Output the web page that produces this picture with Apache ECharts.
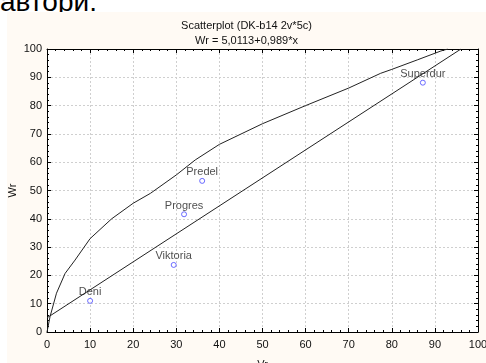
<!DOCTYPE html>
<html><head><meta charset="utf-8">
<script src="https://cdn.jsdelivr.net/npm/echarts@6/dist/echarts.min.js"></script>
<style>
html,body{margin:0;padding:0;background:#fff;width:486px;height:363px;overflow:hidden;position:relative;}
#top{position:absolute;left:0;top:-14px;font-family:"Liberation Sans",Arial,sans-serif;font-size:28px;color:#000;white-space:nowrap;}
#c{position:absolute;left:7px;top:12px;width:479px;height:351px;}
</style></head><body>
<div id="top">автори.</div>
<div id="c"></div>
<script>
const titleMain = 'Scatterplot (DK-b14 2v*5c)';
const titleSub = 'Wr = 5,0113+0,989*x';
const names = ['Deni', 'Viktoria', 'Progres', 'Predel', 'Superdur'];
const vr = [10.0, 29.4, 31.8, 36.0, 87.2];
const wr = [11.0, 23.7, 41.6, 53.4, 88.1];
const fitX = [0, 96.05];
const fitY = [5.0113, 100];
const curveX = [0, 0.7, 2.2, 4.2, 6.5, 10, 15, 20, 24, 30, 34.4, 40, 50, 60, 70, 77.4, 80, 86, 91.4, 93];
const curveY = [0, 5.4, 13.7, 20.7, 25.4, 33, 40, 45.5, 49, 55.5, 60.8, 66.3, 73.6, 80, 86.2, 91.4, 92.8, 96.2, 99.3, 100];
const xTicks = [0, 10, 20, 30, 40, 50, 60, 70, 80, 90, 100];
const yTicks = [0, 10, 20, 30, 40, 50, 60, 70, 80, 90, 100];

const font = '"Liberation Sans", Arial, sans-serif';
const chart = echarts.init(document.getElementById('c'));
const pts = vr.map((v, i) => ({ value: [v, wr[i]], name: names[i] }));
const fit = fitX.map((v, i) => [v, fitY[i]]);
const curve = curveX.map((v, i) => [v, curveY[i]]);
const baseAxis = {
  type: 'value', min: xTicks[0], max: xTicks[xTicks.length - 1], interval: 10,
  axisLine: { show: true, onZero: false, lineStyle: { color: '#000', width: 1 } },
  axisTick: { show: true, inside: true, length: 4, lineStyle: { color: '#000' } },
  minorTick: { show: true, splitNumber: 5, length: 2, lineStyle: { color: '#000' } },
  axisLabel: { color: '#111', fontFamily: font, fontSize: 11 },
  nameTextStyle: { color: '#111', fontFamily: font, fontSize: 11 },
  nameMoveOverlap: false
};
chart.setOption({
  backgroundColor: '#fffaf4',
  animation: false,
  title: [
    { text: titleMain, left: 'center', top: 3, textStyle: { fontFamily: font, fontSize: 11, fontWeight: 'normal', color: '#111' } },
    { text: titleSub, left: 'center', top: 18, textStyle: { fontFamily: font, fontSize: 11, fontWeight: 'normal', color: '#111' } }
  ],
  grid: { left: 40, right: 8, top: 37, bottom: 31, outerBoundsMode: 'none', containLabel: false, show: true, backgroundColor: '#fff', borderWidth: 0 },
  xAxis: [
    Object.assign({}, baseAxis, {
      position: 'bottom', name: 'Vr', nameLocation: 'middle', nameGap: 27,
      axisLabel: Object.assign({}, baseAxis.axisLabel, { margin: 7 }),
      splitLine: { show: true, lineStyle: { color: '#cfcfcf', type: [2, 2] } }
    }),
    Object.assign({}, baseAxis, { position: 'top', axisLabel: { show: false }, splitLine: { show: false } })
  ],
  yAxis: [
    Object.assign({}, baseAxis, {
      min: yTicks[0], max: yTicks[yTicks.length - 1],
      position: 'left', name: 'Wr', nameLocation: 'middle', nameGap: 29,
      axisLabel: Object.assign({}, baseAxis.axisLabel, { margin: 5 }),
      splitLine: { show: true, lineStyle: { color: '#cfcfcf', type: [2, 2] } }
    }),
    Object.assign({}, baseAxis, { min: yTicks[0], max: yTicks[yTicks.length - 1], position: 'right', axisLabel: { show: false }, splitLine: { show: false } })
  ],
  series: [
    { type: 'line', data: curve, showSymbol: false, smooth: false, lineStyle: { color: '#222', width: 1 }, z: 3 },
    { type: 'line', data: fit, showSymbol: false, lineStyle: { color: '#222', width: 1 }, z: 3 },
    {
      type: 'scatter', data: pts, symbol: 'circle', symbolSize: 5,
      itemStyle: { color: '#ffffff', borderColor: '#4848ff', borderWidth: 1 },
      label: { show: true, position: 'top', distance: 0, formatter: p => p.name, color: '#222', fontFamily: font, fontSize: 11 },
      z: 4
    }
  ]
});
</script>
</body></html>
